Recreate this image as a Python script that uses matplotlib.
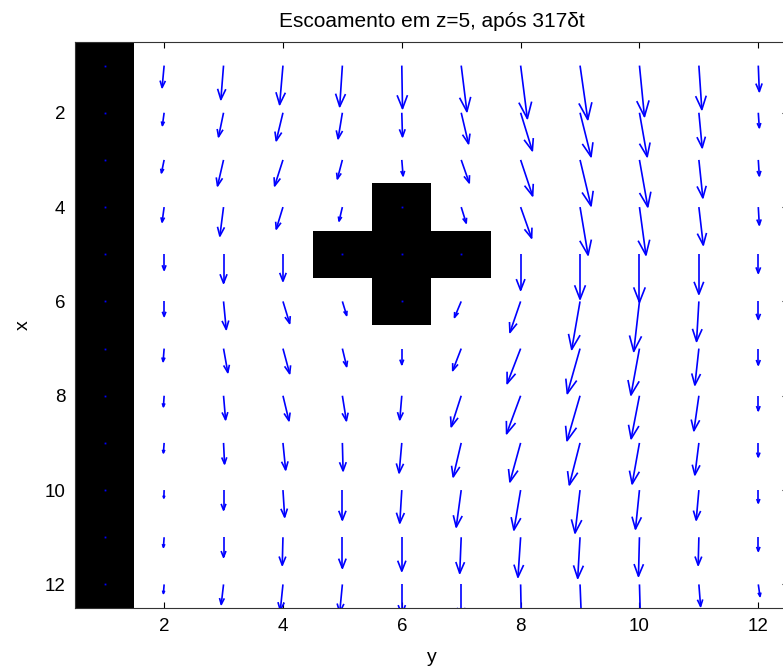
import numpy as np
import matplotlib
matplotlib.use("Agg")
import matplotlib.pyplot as plt
from matplotlib.collections import LineCollection

# grid: horizontal axis "y" (columns 1..12), vertical axis "x" (rows 1..12)
y_cols = np.arange(1, 13)
x_rows = np.arange(1, 13)

# horizontal (along y) component of each arrow, rows x=1..12
U = np.array([
    [0, -0.034, -0.045, -0.056, -0.045, 0.012, 0.096, 0.113, 0.130, 0.084, 0.050, 0.017],
    [0, -0.029, -0.084, -0.113, -0.072, 0.012, 0.123, 0.197, 0.185, 0.130, 0.056, 0.017],
    [0, -0.045, -0.101, -0.140, -0.084, 0.022, 0.135, 0.202, 0.185, 0.140, 0.067, 0.017],
    [0, -0.034, -0.062, -0.113, -0.056, 0.000, 0.084, 0.185, 0.135, 0.109, 0.074, 0.017],
    [0, 0.000, 0.000, 0.000, 0.000, 0.000, 0.000, 0.000, 0.000, 0.000, 0.000, 0.000],
    [0, 0.000, 0.045, 0.113, 0.072, 0.000, -0.113, -0.180, -0.140, -0.096, -0.039, 0.000],
    [0, -0.017, 0.072, 0.113, 0.072, 0.000, -0.143, -0.227, -0.214, -0.143, -0.067, 0.000],
    [0, -0.012, 0.034, 0.101, 0.067, -0.034, -0.168, -0.236, -0.219, -0.140, -0.084, 0.000],
    [0, -0.012, 0.017, 0.045, 0.012, -0.045, -0.135, -0.180, -0.180, -0.123, -0.067, 0.000],
    [0, -0.005, 0.000, 0.029, 0.000, -0.034, -0.084, -0.113, -0.084, -0.067, -0.045, 0.000],
    [0, -0.012, 0.000, -0.012, 0.000, 0.000, -0.025, -0.045, -0.039, -0.017, -0.012, 0.000],
    [0, -0.012, -0.039, -0.045, -0.045, 0.000, 0.000, 0.012, 0.025, 0.017, 0.029, 0.029],
])

# vertical (along x) component of each arrow
V = np.array([
    [0, 0.466, 0.720, 0.826, 0.869, 0.911, 0.975, 1.123, 1.144, 1.080, 0.932, 0.551],
    [0, 0.270, 0.510, 0.593, 0.551, 0.508, 0.657, 0.805, 0.932, 0.932, 0.742, 0.318],
    [0, 0.275, 0.551, 0.551, 0.403, 0.339, 0.487, 0.763, 0.975, 0.996, 0.805, 0.339],
    [0, 0.318, 0.614, 0.466, 0.297, 0.000, 0.339, 0.657, 1.017, 1.017, 0.805, 0.381],
    [0, 0.339, 0.614, 0.572, 0.000, 0.000, 0.000, 0.763, 0.953, 1.017, 0.847, 0.403],
    [0, 0.318, 0.593, 0.466, 0.297, 0.000, 0.339, 0.657, 1.017, 1.059, 0.847, 0.381],
    [0, 0.275, 0.508, 0.530, 0.381, 0.339, 0.466, 0.742, 0.953, 0.985, 0.773, 0.350],
    [0, 0.233, 0.508, 0.530, 0.530, 0.508, 0.657, 0.805, 0.953, 0.911, 0.742, 0.318],
    [0, 0.212, 0.445, 0.572, 0.593, 0.636, 0.720, 0.826, 0.890, 0.869, 0.678, 0.297],
    [0, 0.169, 0.424, 0.572, 0.636, 0.699, 0.784, 0.847, 0.911, 0.826, 0.636, 0.275],
    [0, 0.212, 0.424, 0.593, 0.657, 0.720, 0.763, 0.847, 0.869, 0.826, 0.593, 0.297],
    [0, 0.191, 0.424, 0.551, 0.593, 0.636, 0.720, 0.763, 0.784, 0.763, 0.466, 0.254],
])

# solid cells (1 = obstacle): wall at y=1 and a cross centred on (x=5, y=6)
obstacle = np.array([
    [1, 0, 0, 0, 0, 0, 0, 0, 0, 0, 0, 0],
    [1, 0, 0, 0, 0, 0, 0, 0, 0, 0, 0, 0],
    [1, 0, 0, 0, 0, 0, 0, 0, 0, 0, 0, 0],
    [1, 0, 0, 0, 0, 1, 0, 0, 0, 0, 0, 0],
    [1, 0, 0, 0, 1, 1, 1, 0, 0, 0, 0, 0],
    [1, 0, 0, 0, 0, 1, 0, 0, 0, 0, 0, 0],
    [1, 0, 0, 0, 0, 0, 0, 0, 0, 0, 0, 0],
    [1, 0, 0, 0, 0, 0, 0, 0, 0, 0, 0, 0],
    [1, 0, 0, 0, 0, 0, 0, 0, 0, 0, 0, 0],
    [1, 0, 0, 0, 0, 0, 0, 0, 0, 0, 0, 0],
    [1, 0, 0, 0, 0, 0, 0, 0, 0, 0, 0, 0],
    [1, 0, 0, 0, 0, 0, 0, 0, 0, 0, 0, 0],
])

title = "Escoamento em z=5, após 317δt"

plt.rcParams['font.family'] = ['Liberation Sans', 'DejaVu Sans']

W, H = 783, 670
fig = plt.figure(figsize=(W / 100, H / 100), dpi=100)
ax = fig.add_axes([75 / W, (H - 608) / H, 713 / W, 566 / H])

ax.imshow(obstacle, cmap='gray_r', vmin=0, vmax=1, interpolation='nearest',
          extent=[0.5, 12.5, 12.5, 0.5], aspect='auto', zorder=1)

# MATLAB-style quiver arrows (shaft + open head), computed in data coords
Y, X = np.meshgrid(y_cols, x_rows)
alpha, beta = 0.31, 0.31
segs = []
zx, zy = [], []
for i in range(X.shape[0]):
    for j in range(X.shape[1]):
        x0, y0 = Y[i, j], X[i, j]
        u, v = U[i, j], V[i, j]
        if u == 0 and v == 0:
            zx.append(x0)
            zy.append(y0)
            continue
        xe, ye = x0 + u, y0 + v
        segs.append([(x0, y0), (xe, ye)])
        segs.append([(xe - alpha * (u + beta * v), ye - alpha * (v - beta * u)),
                     (xe, ye),
                     (xe - alpha * (u - beta * v), ye - alpha * (v + beta * u))])
lc = LineCollection(segs, colors='#0000ff', linewidths=1.2, zorder=3)
ax.add_collection(lc)
ax.plot(zx, zy, linestyle='none', marker='s', markersize=1.3, color='#0000ff',
        markeredgewidth=0, zorder=3)

ax.set_xlim(0.5, 12.5)
ax.set_ylim(12.5, 0.5)
ax.set_xticks([2, 4, 6, 8, 10, 12])
ax.set_yticks([2, 4, 6, 8, 10, 12])
ax.tick_params(direction='in', length=4.5, width=0.8, top=True, right=True,
               labelsize=13.5, pad=7, colors='black')
for s in ax.spines.values():
    s.set_linewidth(0.8)
    s.set_color('#333333')

ax.set_xlabel('y', fontsize=14, labelpad=10)
ax.set_ylabel('x', fontsize=14, labelpad=9)
ax.set_title(title, fontsize=15, pad=11)

fig.savefig('out.png', dpi=100)
